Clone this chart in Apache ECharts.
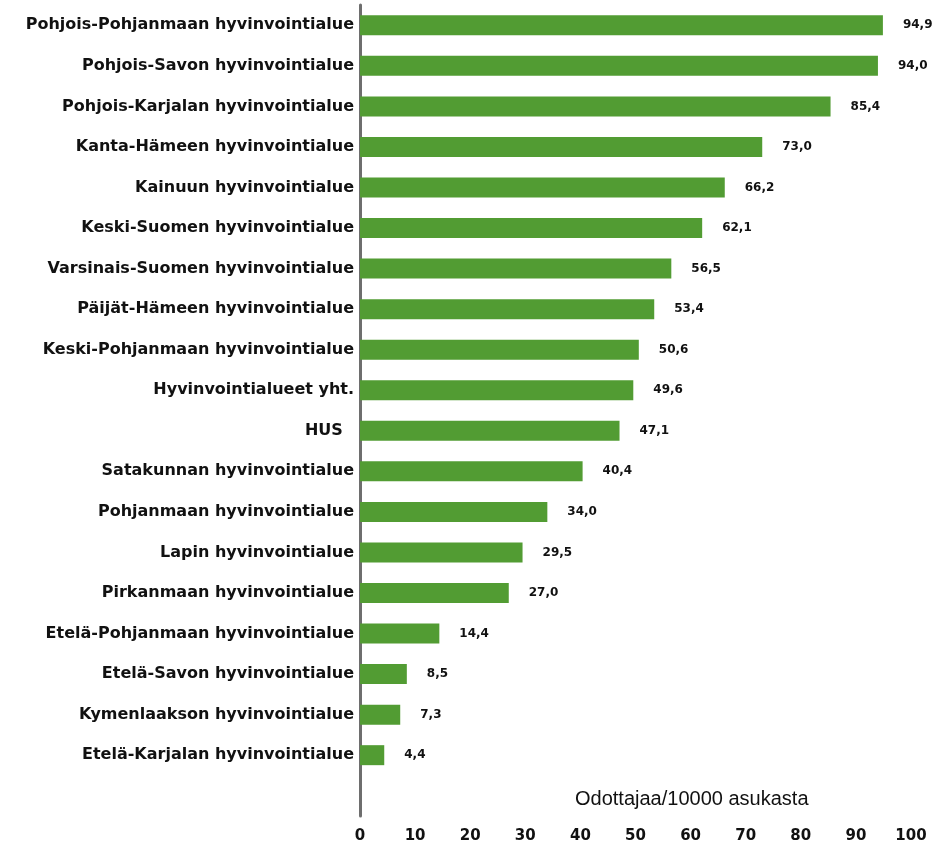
<!DOCTYPE html>
<html>
<head>
<meta charset="utf-8">
<script src="https://cdn.jsdelivr.net/npm/echarts@6/dist/echarts.min.js"></script>
<style>
  html, body { margin: 0; padding: 0; background: #fff; }
  #main { width: 936px; height: 846px; }
</style>
</head>
<body>
<div id="main"></div>
<script>
	// top to bottom, as in the picture
	var regions = [
		'Pohjois-Pohjanmaan hyvinvointialue',
		'Pohjois-Savon hyvinvointialue',
		'Pohjois-Karjalan hyvinvointialue',
		'Kanta-Hämeen hyvinvointialue',
		'Kainuun hyvinvointialue',
		'Keski-Suomen hyvinvointialue',
		'Varsinais-Suomen hyvinvointialue',
		'Päijät-Hämeen hyvinvointialue',
		'Keski-Pohjanmaan hyvinvointialue',
		'Hyvinvointialueet yht.',
		'HUS  ',
		'Satakunnan hyvinvointialue',
		'Pohjanmaan hyvinvointialue',
		'Lapin hyvinvointialue',
		'Pirkanmaan hyvinvointialue',
		'Etelä-Pohjanmaan hyvinvointialue',
		'Etelä-Savon hyvinvointialue',
		'Kymenlaakson hyvinvointialue',
		'Etelä-Karjalan hyvinvointialue'
	];
	var waiting = [94.9, 94.0, 85.4, 73.0, 66.2, 62.1, 56.5, 53.4, 50.6, 49.6, 47.1, 40.4, 34.0, 29.5, 27.0, 14.4, 8.5, 7.3, 4.4];
	var xTicks = [0, 10, 20, 30, 40, 50, 60, 70, 80, 90, 100];
	var unitText = 'Odottajaa/10000 asukasta';

	// category axis runs bottom-up; an empty slot at the bottom leaves room for the unit text
	var cats = [''].concat(regions.slice().reverse());
	var vals = ['-'].concat(waiting.slice().reverse());

	var myChart = echarts.init(document.getElementById('main'));
	var option = {
		animation: false,
		title: {
			text: unitText,
			left: 570,
			top: 784,
			textStyle: {
				color: '#111',
				fontSize: 20,
				fontWeight: 'normal',
				fontFamily: 'Liberation Sans'
			}
		},
		grid: {
			left: 360,
			right: 25,
			top: 5,
			bottom: 30,
			containLabel: false
		},
		xAxis: {
			type: 'value',
			min: xTicks[0],
			max: xTicks[xTicks.length - 1],
			interval: xTicks[1] - xTicks[0],
			axisLine: { show: false },
			axisTick: { show: false },
			splitLine: { show: false },
			axisLabel: {
				margin: 13,
				color: '#111',
				fontSize: 15,
				fontWeight: 'bold',
				fontFamily: 'DejaVu Sans'
			}
		},
		yAxis: {
			type: 'category',
			data: cats,
			axisLine: {
				show: true,
				lineStyle: { color: '#6e6e6e', width: 3 }
			},
			axisTick: { show: false },
			axisLabel: {
				margin: 6,
				color: '#111',
				fontSize: 16,
				fontWeight: 'bold',
				fontFamily: 'DejaVu Sans'
			}
		},
		series: [{
			type: 'bar',
			data: vals,
			barWidth: 20,
			itemStyle: { color: '#529c33' },
			label: {
				show: true,
				position: 'right',
				distance: 20,
				color: '#111',
				fontSize: 12,
				fontWeight: 'bold',
				fontFamily: 'DejaVu Sans',
				formatter: function (p) {
					return p.value.toFixed(1).replace('.', ',');
				}
			}
		}]
	};
	myChart.setOption(option);
</script>
</body>
</html>
